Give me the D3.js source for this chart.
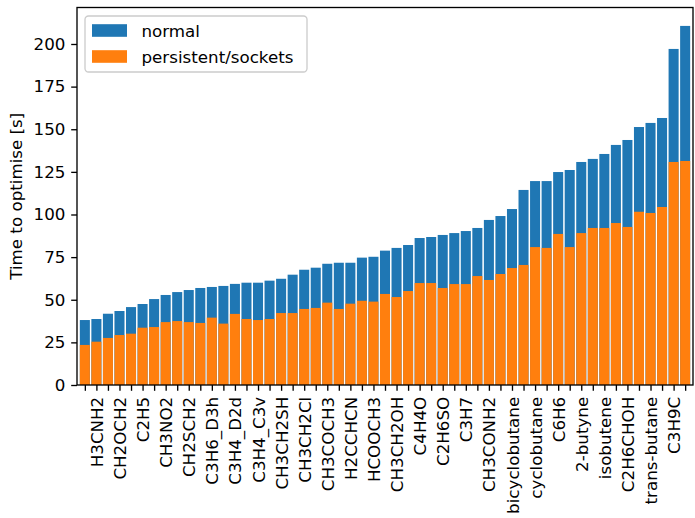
<!DOCTYPE html>
<html>
<head>
<meta charset="utf-8">
<script src="https://cdn.jsdelivr.net/npm/d3@7"></script>
<style>
  body { margin: 0; background: #fff; }
  svg { display: block; }
  text { font-family: "DejaVu Sans", sans-serif; fill: #000; }
</style>
</head>
<body>
<svg id="chart" width="695" height="518"></svg>
<script>
// Labels shown on every second tick (bars 1, 3, 5, ...)
const tickLabels = [
  "H3CNH2", "CH2OCH2", "C2H5", "CH3NO2", "CH2SCH2", "C3H6_D3h", "C3H4_D2d",
  "C3H4_C3v", "CH3CH2SH", "CH3CH2Cl", "CH3COCH3", "H2CCHCN", "HCOOCH3",
  "CH3CH2OH", "C4H4O", "C2H6SO", "C3H7", "CH3CONH2", "bicyclobutane",
  "cyclobutane", "C6H6", "2-butyne", "isobutene", "C2H6CHOH", "trans-butane", "C3H9C"
];

// Time to optimise with the normal driver [s]
const normal = [
  38.1, 38.7, 41.8, 43.4, 45.7, 47.5, 50.4, 52.8, 54.5, 55.7,
  56.9, 57.5, 58.1, 59.3, 60.0, 60.0, 61.2, 62.3, 64.7, 67.6,
  68.8, 71.1, 71.7, 71.7, 74.7, 75.2, 78.8, 80.4, 82.1, 86.2,
  86.8, 88.0, 89.1, 90.3, 92.1, 96.8, 99.1, 103.2, 114.4, 119.6,
  119.6, 124.9, 126.1, 130.8, 132.6, 135.5, 140.8, 143.7, 151.3, 153.7,
  156.6, 197.1, 210.6
];

// Time to optimise with persistent/sockets [s]
const persistent = [
  23.5, 25.4, 27.6, 29.3, 30.1, 33.6, 34.0, 36.9, 37.5, 36.9,
  36.4, 39.5, 36.0, 41.7, 38.7, 38.1, 38.7, 42.2, 42.2, 44.6,
  45.2, 48.3, 44.6, 47.7, 49.4, 48.9, 53.4, 51.6, 55.1, 59.8,
  59.8, 56.9, 59.2, 59.2, 63.9, 61.6, 65.1, 68.6, 70.4, 80.9,
  80.4, 88.6, 80.9, 89.1, 92.1, 92.1, 95.0, 92.7, 101.6, 100.9,
  104.4, 130.8, 131.4
];

const yTicks = [0, 25, 50, 75, 100, 125, 150, 175, 200];

const seriesNames = ["normal", "persistent/sockets"];
const colors = ["#1f77b4", "#ff7f0e"];

const svg = d3.select("#chart");
const plot = { left: 77, right: 693, top: 7.5, bottom: 385 };
const n = normal.length;
const barWidth = 0.87;
const fs = 16.7;

const x = d3.scaleLinear().domain([-0.68, n - 1 + 0.68]).range([plot.left, plot.right]);
const y = d3.scaleLinear().domain([0, 221.4]).range([plot.bottom, plot.top]);

const idx = d3.range(n);

// Normal timings behind, persistent timings in front
[normal, persistent].forEach((vals, s) => {
  svg.append("g").selectAll("rect").data(idx).join("rect")
    .attr("x", i => x(i - barWidth / 2))
    .attr("width", i => x(i + barWidth / 2) - x(i - barWidth / 2))
    .attr("y", i => y(vals[i]))
    .attr("height", i => y(0) - y(vals[i]))
    .attr("fill", colors[s]);
});

// X axis: a tick per bar, label on every second one
const xAxis = d3.axisBottom(x)
  .tickValues(idx)
  .tickSize(5.8)
  .tickPadding(5.8)
  .tickFormat(i => (i % 2 === 1 ? tickLabels[(i - 1) / 2] : ""));
const gx = svg.append("g").attr("transform", `translate(0,${plot.bottom})`).call(xAxis);
gx.select(".domain").remove();
gx.selectAll(".tick line").attr("stroke", "#000").attr("stroke-width", 1.33);
gx.selectAll(".tick text")
  .attr("font-size", fs)
  .attr("transform", "rotate(-90)")
  .attr("text-anchor", "end")
  .attr("x", -11.8)
  .attr("y", 0)
  .attr("dy", "0.36em");

// Y axis
const yAxis = d3.axisLeft(y).tickValues(yTicks).tickSize(5.8).tickPadding(5.8);
const gy = svg.append("g").attr("transform", `translate(${plot.left},0)`).call(yAxis);
gy.select(".domain").remove();
gy.selectAll(".tick line").attr("stroke", "#000").attr("stroke-width", 1.33);
gy.selectAll(".tick text").attr("font-size", fs);

// Frame
svg.append("rect")
  .attr("x", plot.left).attr("y", plot.top)
  .attr("width", plot.right - plot.left).attr("height", plot.bottom - plot.top)
  .attr("fill", "none").attr("stroke", "#000").attr("stroke-width", 1.33);

// Y axis title
svg.append("text")
  .attr("transform", `translate(22,${(plot.top + plot.bottom) / 2}) rotate(-90)`)
  .attr("text-anchor", "middle")
  .attr("font-size", fs)
  .text("Time to optimise [s]");

// Legend
const lg = svg.append("g");
lg.append("rect")
  .attr("x", 85).attr("y", 16).attr("width", 222).attr("height", 56)
  .attr("rx", 3.5).attr("ry", 3.5)
  .attr("fill", "#fff").attr("fill-opacity", 0.8)
  .attr("stroke", "#cccccc").attr("stroke-width", 1.33);
seriesNames.forEach((name, k) => {
  const cy = 30.5 + k * 26;
  lg.append("rect")
    .attr("x", 92).attr("y", cy - 6.3).attr("width", 35).attr("height", 12.6)
    .attr("fill", colors[k]);
  lg.append("text")
    .attr("x", 141.5).attr("y", cy).attr("dy", "0.36em")
    .attr("font-size", fs)
    .text(name);
});
</script>
</body>
</html>
